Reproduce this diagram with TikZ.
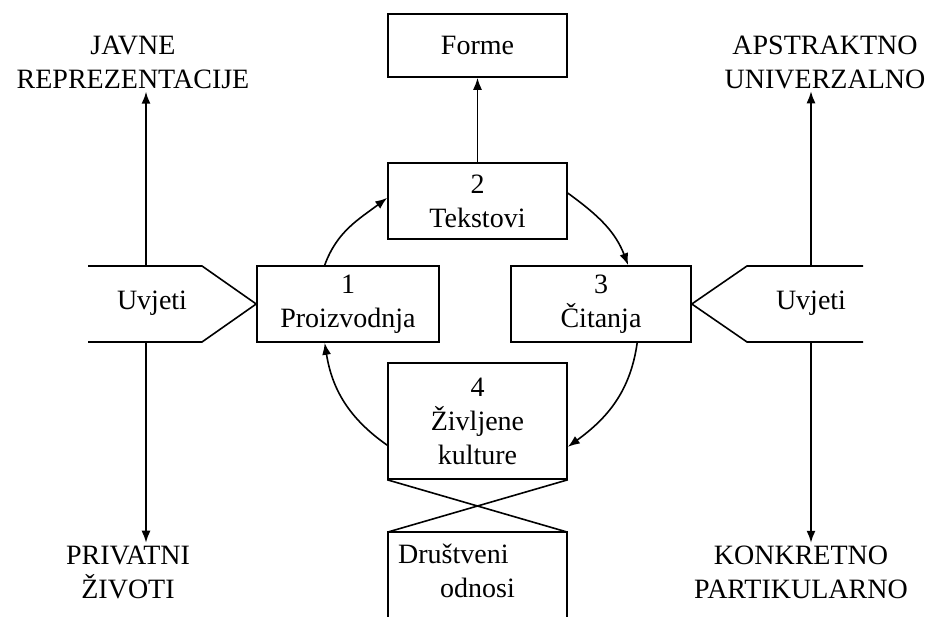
\documentclass[tikz,border=0pt]{standalone}
\usepackage{fontspec}
\setmainfont{Liberation Serif}
\usetikzlibrary{arrows.meta,calc}
\tikzset{
    stage/.style = {
        draw,
        align=center,
        minimum width=179pt,
        minimum height=76pt,
        },
    pole/.style = {
        align=center,
        inner sep=2pt,
        },
}

\begin{document}
\begin{tikzpicture}[x=1pt, y=1pt, line width=1.6pt, >={Latex[length=12pt,width=9pt]},
        font=\fontsize{28}{34}\selectfont]
    \useasboundingbox (0,0) rectangle (931,617);

    \node[stage, minimum height=63pt] (forme) at (477.5,571.5) {Forme};
    \node[stage] (2) at (477.5,416) {2\\Tekstovi};
    \node[stage, minimum width=182pt] (1) at (348,313) {1\\Proizvodnja};
    \node[stage, minimum width=180pt] (3) at (601,313) {3\\Čitanja};
    \node[stage, minimum height=116pt] (4) at (477.5,196) {4\\Življene\\kulture};

    % the circle of culture
    \draw[->] (1.121) to[out=70, in=217] (2.178);
    \draw[->] (2.5) to[out=-36, in=111] (3.55);
    \draw[->] (3.-47) to[out=-98, in=36] (4.-16);
    \draw[->] (4.195) to[out=145, in=-81] (1.239);
    \draw[->] (2.north) -- (forme.south);

    % social relations, cut at the bottom
    \coordinate (d nw) at (388,85);
    \coordinate (d ne) at (567,85);
    \draw (388,0) -- (d nw) -- (d ne) -- (567,0);
    \node[pole, align=left] (drustveni) at (456.5,46.5) {Društveni\\\hspace*{42pt}odnosi};
    \draw (4.south west) -- (d ne);
    \draw (4.south east) -- (d nw);

    % conditions
    \node (uvjeti l) at (152,314) {Uvjeti};
    \node (uvjeti r) at (811,314) {Uvjeti};
    \draw (88,351) -- (202,351) -- (1.west) -- (202,275) -- (88,275);
    \draw (863,351) -- (747,351) -- (3.east) -- (747,275) -- (863,275);

    \node[pole] (javne) at (133,554.5) {JAVNE\\REPREZENTACIJE};
    \node[pole] (privatni) at (128,45) {PRIVATNI\\ŽIVOTI};
    \node[pole] (apstraktno) at (825,555) {APSTRAKTNO\\UNIVERZALNO};
    \node[pole] (konkretno) at (801,45) {KONKRETNO\\PARTIKULARNO};

    \coordinate (lt) at (146,351);
    \coordinate (lb) at (146,275);
    \coordinate (rt) at (811,351);
    \coordinate (rb) at (811,275);
    \draw[->] (lt) -- (lt |- javne.south);
    \draw[->] (lb) -- (lb |- privatni.north);
    \draw[->] (rt) -- (rt |- apstraktno.south);
    \draw[->] (rb) -- (rb |- konkretno.north);
\end{tikzpicture}
\end{document}
